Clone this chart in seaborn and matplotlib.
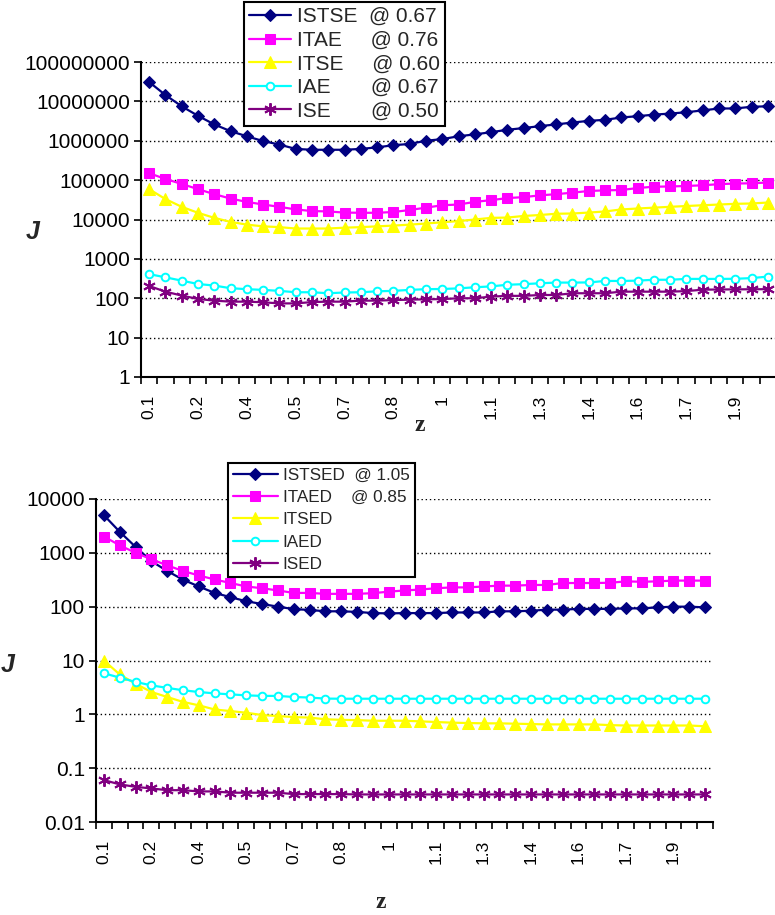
import matplotlib
matplotlib.use("Agg")
import matplotlib.pyplot as plt
import seaborn as sns
from matplotlib.ticker import FixedLocator, NullFormatter

# ---------------- data ----------------
z = [0.10, 0.15, 0.20, 0.25, 0.30, 0.35, 0.40, 0.45, 0.50, 0.55,
     0.60, 0.65, 0.70, 0.75, 0.80, 0.85, 0.90, 0.95, 1.00, 1.05,
     1.10, 1.15, 1.20, 1.25, 1.30, 1.35, 1.40, 1.45, 1.50, 1.55,
     1.60, 1.65, 1.70, 1.75, 1.80, 1.85, 1.90, 1.95, 2.00]
z_tick_pos = [0.10, 0.25, 0.40, 0.55, 0.70, 0.85, 1.00, 1.15, 1.30, 1.45, 1.60, 1.75, 1.90]
z_tick_labels = ["0.1", "0.2", "0.4", "0.5", "0.7", "0.8", "1", "1.1", "1.3", "1.4", "1.6", "1.7", "1.9"]

# top chart
istse = [3.1e7, 1.45e7, 7.5e6, 4.3e6, 2.6e6, 1.75e6, 1.3e6, 9.8e5, 8.0e5, 6.2e5,
         5.9e5, 5.9e5, 5.9e5, 6.2e5, 6.8e5, 7.7e5, 8.3e5, 1.0e6, 1.1e6, 1.3e6,
         1.45e6, 1.65e6, 1.9e6, 2.1e6, 2.35e6, 2.6e6, 2.9e6, 3.2e6, 3.4e6, 3.9e6,
         4.2e6, 4.6e6, 4.9e6, 5.3e6, 5.9e6, 6.6e6, 6.6e6, 7.3e6, 7.5e6]
itae = [1.5e5, 1.07e5, 8.0e4, 5.9e4, 4.4e4, 3.4e4, 2.8e4, 2.4e4, 2.1e4, 1.8e4,
        1.64e4, 1.6e4, 1.5e4, 1.48e4, 1.48e4, 1.55e4, 1.74e4, 2.0e4, 2.3e4, 2.4e4,
        2.8e4, 3.1e4, 3.5e4, 3.7e4, 4.1e4, 4.4e4, 4.8e4, 5.3e4, 5.5e4, 5.6e4,
        6.3e4, 6.8e4, 6.9e4, 7.1e4, 7.4e4, 7.9e4, 8.2e4, 8.3e4, 8.7e4]
itse = [5.9e4, 3.3e4, 2.1e4, 1.48e4, 1.1e4, 8.7e3, 7.4e3, 6.7e3, 6.4e3, 5.9e3,
        5.9e3, 5.9e3, 6.2e3, 6.4e3, 6.7e3, 7.0e3, 7.4e3, 7.9e3, 8.5e3, 9.1e3,
        1.0e4, 1.1e4, 1.12e4, 1.23e4, 1.3e4, 1.4e4, 1.42e4, 1.5e4, 1.6e4, 1.8e4,
        1.9e4, 2.0e4, 2.1e4, 2.2e4, 2.3e4, 2.4e4, 2.5e4, 2.55e4, 2.7e4]
iae = [410, 340, 280, 230, 210, 180, 170, 163, 154, 142,
       142, 134, 140, 142, 150, 154, 163, 170, 172, 178,
       190, 200, 220, 228, 240, 250, 250, 252, 275, 275,
       280, 295, 295, 310, 310, 310, 312, 325, 355]
ise = [205, 147, 117, 96, 87, 82, 82, 79, 74, 74,
       80, 82, 82, 87, 87, 90, 92, 94, 95, 100,
       100, 110, 115, 115, 121, 121, 134, 134, 134, 147,
       147, 147, 147, 152, 165, 167, 168, 169, 170]

# bottom chart
istsed = [5000, 2460, 1290, 700, 460, 317, 237, 180, 150, 126,
          112, 100, 90, 87, 82, 82, 80, 76, 75, 76,
          76, 76, 78, 78, 78, 82, 82, 84, 88, 88,
          91, 91, 91, 93, 93, 97, 100, 100, 97]
itaed = [2000, 1380, 1000, 760, 585, 460, 380, 320, 275, 237,
         220, 200, 180, 180, 173, 173, 173, 178, 190, 200,
         208, 220, 228, 228, 237, 246, 246, 253, 253, 275,
         275, 275, 278, 295, 290, 295, 305, 305, 305]
itsed = [10, 5.5, 3.7, 2.6, 2.1, 1.7, 1.47, 1.23, 1.15, 1.07,
         0.97, 0.93, 0.89, 0.87, 0.81, 0.79, 0.78, 0.76, 0.76, 0.76,
         0.74, 0.72, 0.70, 0.69, 0.68, 0.68, 0.67, 0.66, 0.65, 0.65,
         0.65, 0.65, 0.63, 0.62, 0.62, 0.62, 0.62, 0.62, 0.60]
iaed = [5.8, 4.8, 4.0, 3.45, 3.1, 2.8, 2.6, 2.45, 2.35, 2.25,
        2.2, 2.2, 2.1, 2.05, 1.96, 1.95, 1.95, 1.95, 1.95, 1.95,
        1.95, 1.95, 1.95, 1.95, 1.95, 1.95, 1.95, 1.95, 1.95, 1.95,
        1.95, 1.95, 1.95, 1.95, 1.95, 1.95, 1.95, 1.95, 1.95]
ised = [0.06, 0.05, 0.045, 0.042, 0.039, 0.039, 0.037, 0.037, 0.035, 0.035,
        0.035, 0.035, 0.033, 0.033, 0.033, 0.033, 0.0325, 0.0325, 0.0325, 0.0325,
        0.0325, 0.0325, 0.0325, 0.0325, 0.0325, 0.0325, 0.0325, 0.0325, 0.0325, 0.0325,
        0.0325, 0.0325, 0.0325, 0.0325, 0.0325, 0.0325, 0.0325, 0.0325, 0.0325]

top_labels = ["ISTSE  @ 0.67", "ITAE     @ 0.76", "ITSE     @ 0.60",
              "IAE       @ 0.67", "ISE       @ 0.50"]
bot_labels = ["ISTSED  @ 1.05", "ITAED    @ 0.85", "ITSED", "IAED", "ISED"]
top_yticks = [1, 10, 100, 1000, 10000, 100000, 1000000, 10000000, 100000000]
top_yticklabels = ["1", "10", "100", "1000", "10000", "100000", "1000000",
                   "10000000", "100000000"]
bot_yticks = [0.01, 0.1, 1, 10, 100, 1000, 10000]
bot_yticklabels = ["0.01", "0.1", "1", "10", "100", "1000", "10000"]

# ---------------- style ----------------
sns.set_style("white")
plt.rcParams['font.family'] = ['Liberation Sans', 'DejaVu Sans']

NAVY = "#000080"
MAGENTA = "#FF00FF"
YELLOW = "#FFFF00"
CYAN = "#00FFFF"
PURPLE = "#800080"
STAR = (6, 2, 0)

styles = [
    dict(color=NAVY, marker="D", markersize=6.5, markeredgecolor=NAVY, markerfacecolor=NAVY),
    dict(color=MAGENTA, marker="s", markersize=7.5, markeredgecolor=MAGENTA, markerfacecolor=MAGENTA),
    dict(color=YELLOW, marker="^", markersize=8.5, markeredgecolor=YELLOW, markerfacecolor=YELLOW),
    dict(color=CYAN, marker="o", markersize=5.5, markeredgecolor=CYAN, markerfacecolor="white",
         markeredgewidth=1.4),
    dict(color=PURPLE, marker=STAR, markersize=9, markeredgecolor=PURPLE, markeredgewidth=1.4),
]

W, H = 775, 915
fig = plt.figure(figsize=(W / 100, H / 100), dpi=100)
ax1 = fig.add_axes([141 / W, 1 - 377 / H, (776 - 141) / W, (377 - 62) / H])
ax2 = fig.add_axes([96 / W, 1 - 822 / H, (713 - 96) / W, (822 - 499) / H])


def draw(ax, series, labels):
    for vals, lab, st in zip(series, labels, styles):
        sns.lineplot(x=z, y=vals, ax=ax, label=lab, linewidth=1.6, sort=False, **st)


draw(ax1, [istse, itae, itse, iae, ise], top_labels)
draw(ax2, [istsed, itaed, itsed, iaed, ised], bot_labels)

boundaries = [v - 0.025 for v in z] + [z[-1] + 0.025]

for ax, yt, ytl, ylim in [(ax1, top_yticks, top_yticklabels, (1, 1e8)),
                          (ax2, bot_yticks, bot_yticklabels, (0.01, 1e4))]:
    ax.set_yscale("log")
    ax.set_ylim(*ylim)
    ax.set_xlim(boundaries[0], boundaries[-1])
    ax.yaxis.set_major_locator(FixedLocator(yt))
    ax.set_yticklabels(ytl)
    ax.yaxis.set_minor_locator(FixedLocator([]))
    ax.set_xticks(z_tick_pos)
    ax.set_xticklabels(z_tick_labels, rotation=90, fontsize=12.5)
    ax.xaxis.set_minor_locator(FixedLocator(boundaries))
    ax.xaxis.set_minor_formatter(NullFormatter())
    ax.tick_params(axis="x", which="major", length=0, pad=13, colors="black")
    ax.tick_params(axis="x", which="minor", length=5, width=1.2, direction="out",
                   color="black", bottom=True)
    ax.tick_params(axis="y", which="major", length=5, width=1.2, direction="out",
                   labelsize=15, colors="black", left=True, pad=3)
    for s in ["top", "right"]:
        ax.spines[s].set_visible(False)
    for s in ["left", "bottom"]:
        ax.spines[s].set_color("black")
        ax.spines[s].set_linewidth(1.5)
    ax.set_xlabel("")
    ax.set_ylabel("")
    for v in yt[1:]:
        ax.axhline(v, color="black", linestyle=(0, (1, 2)), linewidth=1.0, zorder=0)
    ax.set_facecolor("white")

leg1 = ax1.legend(loc="upper left", bbox_to_anchor=(244 / W, 1 - 2 / H),
                  bbox_transform=fig.transFigure, fontsize=15, frameon=True,
                  fancybox=False, edgecolor="black", framealpha=1,
                  handlelength=2.0, handletextpad=0.3, labelspacing=0.22,
                  borderpad=0.25, borderaxespad=0)
leg1.get_frame().set_linewidth(1.5)
leg2 = ax2.legend(loc="upper left", bbox_to_anchor=(228 / W, 1 - 463 / H),
                  bbox_transform=fig.transFigure, fontsize=12.3, frameon=True,
                  fancybox=False, edgecolor="black", framealpha=1,
                  handlelength=2.6, handletextpad=0.3, labelspacing=0.42,
                  borderpad=0.3, borderaxespad=0)
leg2.get_frame().set_linewidth(1.5)

fig.text(33 / W, 1 - 232 / H, "J", fontsize=18, fontweight="bold", fontstyle="italic",
         ha="center", va="center")
fig.text(8 / W, 1 - 665 / H, "J", fontsize=18, fontweight="bold", fontstyle="italic",
         ha="center", va="center")
fig.text(420 / W, 1 - 425 / H, "z", fontsize=17, fontweight="bold",
         family=["Liberation Serif", "DejaVu Serif"], ha="center", va="center")
fig.text(381 / W, 1 - 903 / H, "z", fontsize=17, fontweight="bold",
         family=["Liberation Serif", "DejaVu Serif"], ha="center", va="center")

fig.savefig("out.png", dpi=100, facecolor="white")
